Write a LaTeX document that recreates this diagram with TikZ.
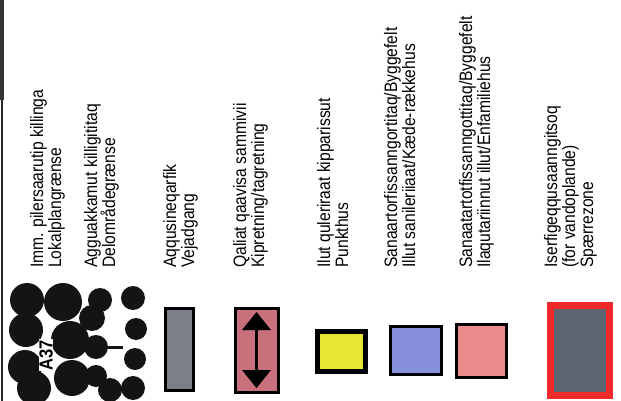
\documentclass[tikz,border=0pt]{standalone}
\usepackage{fontspec}
\setmainfont{Liberation Sans}
\newfontfamily\narrowfont{Liberation Sans}[FakeStretch=0.87]
\definecolor{roadgray}{HTML}{7C7F88}
\definecolor{roofpink}{HTML}{C8707C}
\definecolor{pointyellow}{HTML}{E6E634}
\definecolor{chainblue}{HTML}{8890DC}
\definecolor{singlepink}{HTML}{EC8C8C}
\definecolor{zonered}{HTML}{EE2A2A}
\definecolor{zonegray}{HTML}{5C6470}
\definecolor{blob}{HTML}{141414}
\begin{document}
\begin{tikzpicture}[x=1pt,y=-1pt,
  lbl/.style={rotate=90, anchor=base west, inner sep=0pt, font=\narrowfont\fontsize{18}{18}\selectfont},
  symbox/.style={draw=black, line width=3pt},
  blobc/.style={fill=blob}]
\useasboundingbox (0,0) rectangle (621,401);
\fill[white] (0,0) rectangle (621,401);
% left frame line
\draw[line width=2pt, black!85] (2,0) -- (2,401);
\fill[black!80] (0,0) rectangle (4,100);
% ---- texts ----
\node[lbl] (t1a) at (43,268) {Imm. pilersaarutip killinga};
\node[lbl] (t1b) at (61,268) {Lokalplangrænse};
\node[lbl] (t2a) at (97,268) {Agguakkamut killigititaq};
\node[lbl] (t2b) at (115,268) {Delområdegrænse};
\node[lbl] (t3a) at (176,268) {Aqqusineqarfik};
\node[lbl] (t3b) at (194,268) {Vejadgang};
\node[lbl] (t4a) at (246,268) {Qaliat qaavisa sammivii};
\node[lbl] (t4b) at (264,268) {Kipretning/tagretning};
\node[lbl] (t5a) at (330,268) {Ilut quleriraat kipparissut};
\node[lbl] (t5b) at (348,268) {Punkthus};
\node[lbl] (t6a) at (397,268) {Sanaartorfissanngortitaq/Byggefelt};
\node[lbl] (t6b) at (415,268) {Illut sanileriiaat/Kæde-rækkehus};
\node[lbl] (t7a) at (472,268) {Sanaatartotfissanngottitaq/Byggefelt};
\node[lbl] (t7b) at (490,268) {Ilaqutariinnut illut/Enfamiliehus};
\node[lbl] (t8a) at (557,268) {Iserfigeqqusaanngitsoq};
\node[lbl] (t8b) at (575,268) {(for vandoplande)};
\node[lbl] (t8c) at (593,268) {Spærrezone};
% ---- blobs (local plan boundary) ----
\foreach \x/\y/\r in {27/300/17, 26/330/17, 63/302/19, 100/300/12, 92/318/13,
  70/340/19, 96/347/12, 25/367/17, 34/388/17, 72/378/18, 96/376/11, 110/390/12}
  \fill[blobc] (\x,\y) circle[radius=\r];
\draw[line width=3pt, blob] (98,347) -- (123,347);
\node[rotate=90, fill=white, inner sep=0.5pt, font=\narrowfont\bfseries\fontsize{19}{19}\selectfont] (a37) at (46,355) {A37};
% ---- dots (delområdegrænse) ----
\foreach \x/\y/\r in {133/298/12, 136/329/11, 135/359/11, 133/388/12}
  \fill[blobc] (\x,\y) circle[radius=\r];
% ---- road ----
\draw[symbox, fill=roadgray] (165,308) rectangle (193,390);
% ---- roof direction ----
\draw[symbox, fill=roofpink] (235,308) rectangle (278,392);
\fill[black] (256.5,312) -- (271,330) -- (242,330) -- cycle;
\fill[black] (256.5,388) -- (271,370) -- (242,370) -- cycle;
\draw[line width=3pt] (256.5,327) -- (256.5,373);
% ---- building types ----
\draw[draw=black, line width=5pt, fill=pointyellow] (317,331) rectangle (365,371);
\draw[symbox, fill=chainblue] (390,326) rectangle (441,374);
\draw[symbox, fill=singlepink] (456,324) rectangle (506,377);
% ---- zone ----
\draw[draw=zonered, line width=7pt, fill=zonegray] (550,305) rectangle (609,395);
\end{tikzpicture}
\end{document}
